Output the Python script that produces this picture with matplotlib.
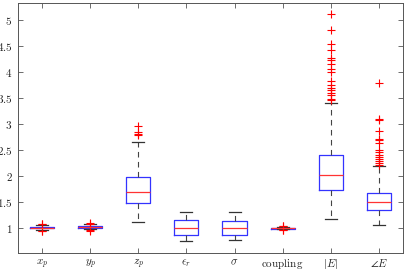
import matplotlib
matplotlib.use('Agg')
import matplotlib.pyplot as plt
import numpy as np

plt.rcParams['mathtext.fontset'] = 'cm'
plt.rcParams['font.family'] = 'serif'
plt.rcParams['font.serif'] = ['DejaVu Serif']

labels = [r'$x_p$', r'$y_p$', r'$z_p$', r'$\epsilon_r$', r'$\sigma$',
          r'$\mathrm{coupling}$', r'$|E|$', r'$\angle E$']

# box statistics
med = [1.00, 1.02, 1.70, 0.995, 0.995, 0.99, 2.02, 1.49]
q1 = [0.99, 1.005, 1.47, 0.865, 0.87, 0.985, 1.725, 1.35]
q3 = [1.02, 1.035, 1.97, 1.15, 1.14, 0.998, 2.40, 1.68]
whislo = [0.96, 0.97, 1.115, 0.74, 0.77, 0.975, 1.17, 1.05]
whishi = [1.06, 1.07, 2.66, 1.30, 1.30, 1.01, 3.41, 2.19]
fliers = [
    [1.08, 1.07, 0.94, 0.93],
    [1.09, 1.08, 0.95, 0.94],
    [2.96, 2.84, 2.81, 2.79],
    [],
    [],
    [1.04, 1.03, 0.96, 0.95],
    [5.12, 4.81, 4.54, 4.42, 4.27, 4.24, 4.15, 4.05, 4.01, 3.83, 3.75,
     3.69, 3.65, 3.60, 3.55, 3.49, 3.46],
    [3.79, 3.10, 3.08, 2.87, 2.72, 2.69, 2.63, 2.50, 2.46, 2.40, 2.36,
     2.32, 2.28, 2.24, 2.21],
]

stats = []
for i in range(len(labels)):
    stats.append(dict(med=med[i], q1=q1[i], q3=q3[i], whislo=whislo[i],
                      whishi=whishi[i], fliers=fliers[i]))

fig = plt.figure(figsize=(4.07, 2.71), dpi=100)
ax = fig.add_axes([0.0442, 0.0653, 0.9458, 0.9237])

ax.bxp(stats, positions=np.arange(1, len(labels) + 1), widths=0.5,
       boxprops=dict(color='#3333ff', linewidth=0.9),
       medianprops=dict(color='#ff3333', linewidth=0.9),
       whiskerprops=dict(color='#444444', linewidth=0.8, linestyle=(0, (5, 4))),
       capprops=dict(color='#333333', linewidth=0.9),
       flierprops=dict(marker='+', markeredgecolor='red', markersize=6,
                       markeredgewidth=0.8, linestyle='none'))

ax.set_xlim(0.5, 8.5)
ax.set_ylim(0.51, 5.33)
yt = np.arange(1, 5.01, 0.5)
ax.set_yticks(yt)
ax.set_yticklabels(['$%g$' % v for v in yt])
ax.set_xticks(np.arange(1, len(labels) + 1))
ax.set_xticklabels(labels)

ax.tick_params(direction='in', length=3.5, width=0.6, colors='#555555',
               labelcolor='#222222', labelsize=8, top=True, right=True, pad=4)
ax.tick_params(axis='x', pad=3)
for s in ax.spines.values():
    s.set_color('#555555')
    s.set_linewidth(0.7)

fig.savefig('out.png', dpi=100)
